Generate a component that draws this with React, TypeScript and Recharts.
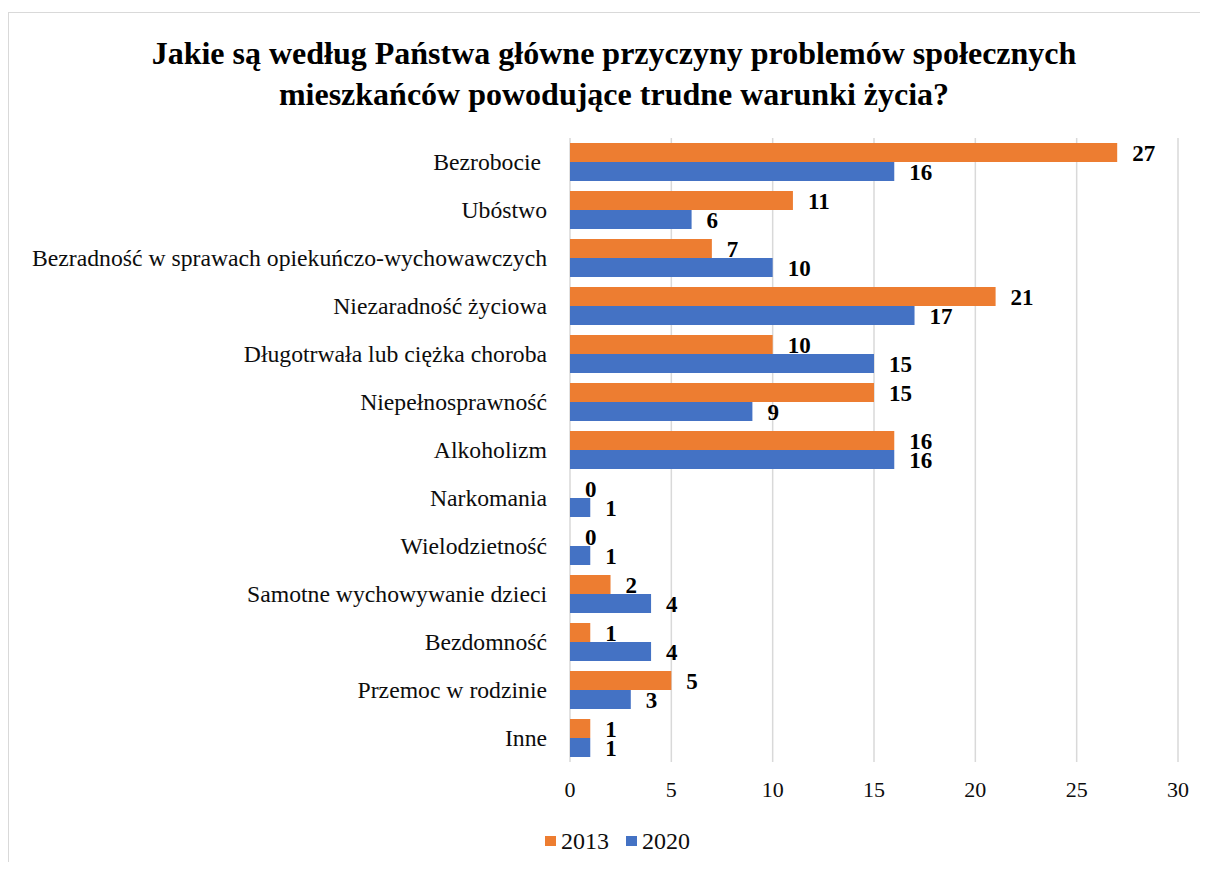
import React from 'react';
import { BarChart, Bar, XAxis, YAxis, CartesianGrid, Legend, LabelList } from 'recharts';

const categories = [
  'Bezrobocie\u00a0',
  'Ubóstwo',
  'Bezradność w sprawach opiekuńczo-wychowawczych',
  'Niezaradność życiowa',
  'Długotrwała lub ciężka choroba',
  'Niepełnosprawność',
  'Alkoholizm',
  'Narkomania',
  'Wielodzietność',
  'Samotne wychowywanie dzieci',
  'Bezdomność',
  'Przemoc w rodzinie',
  'Inne',
];
const values2013 = [27, 11, 7, 21, 10, 15, 16, 0, 0, 2, 1, 5, 1];
const values2020 = [16, 6, 10, 17, 15, 9, 16, 1, 1, 4, 4, 3, 1];
const xTicks = [0, 5, 10, 15, 20, 25, 30];
const seriesNames = ['2013', '2020'];
const titleLines = [
  'Jakie są według Państwa główne przyczyny problemów społecznych',
  'mieszkańców powodujące trudne warunki życia?',
];

const ORANGE = '#ED7D31';
const BLUE = '#4472C4';
const FONT = "'Liberation Serif', 'Times New Roman', serif";

const data = categories.map((name, i) => ({
  name,
  y2013: values2013[i],
  y2020: values2020[i],
}));

const LegendContent = (props: any) => {
  const payload = props && props.payload && props.payload.length
    ? props.payload
    : seriesNames.map((n, i) => ({ value: n, color: i === 0 ? ORANGE : BLUE }));
  return (
    <div style={{ display: 'flex', alignItems: 'center', fontFamily: FONT, fontSize: 24, lineHeight: '24px', color: '#0d0d0d', whiteSpace: 'nowrap' }}>
      {payload.map((p: any, i: number) => (
        <div key={i} style={{ display: 'flex', alignItems: 'center', marginLeft: i === 0 ? 0 : 17 }}>
          <span style={{ display: 'inline-block', width: 11, height: 10, background: p.color, marginRight: 5 }} />
          <span>{p.value}</span>
        </div>
      ))}
    </div>
  );
};

const labelStyle = { fontSize: 23, fontWeight: 'bold' as const, fontFamily: FONT, fill: '#000' };

export default function App() {
  return (
    <div style={{ position: 'relative', width: 1200, height: 854 }}>
      <div
        style={{
          position: 'absolute',
          left: 0,
          top: 4,
          width: 1200,
          height: 858,
          borderTop: '1px solid #d9d9d9',
          borderLeft: '1px solid #d9d9d9',
          boxSizing: 'border-box',
        }}
      />
      <div
        style={{
          position: 'absolute',
          left: 0,
          top: 25,
          width: 1212,
          textAlign: 'center',
          fontFamily: FONT,
          fontWeight: 'bold',
          fontSize: 32,
          lineHeight: '41px',
          color: '#000',
          whiteSpace: 'nowrap',
        }}
      >
        <div>{titleLines[0]}</div>
        <div>{titleLines[1]}</div>
      </div>
      <BarChart
        width={1200}
        height={854}
        data={data}
        layout="vertical"
        margin={{ top: 130, right: 30, bottom: 0, left: 0 }}
        barCategoryGap={5}
        barGap={0}
      >
        <CartesianGrid horizontal={false} vertical={true} stroke="#d9d9d9" strokeWidth={1.5} />
        <XAxis
          type="number"
          domain={[0, 30]}
          ticks={xTicks}
          interval={0}
          axisLine={false}
          tickLine={false}
          tickMargin={13}
          height={76}
          tick={{ fontSize: 22, fontFamily: FONT, fill: '#0d0d0d' }}
        />
        <YAxis
          type="category"
          dataKey="name"
          width={562}
          interval={0}
          axisLine={false}
          tickLine={false}
          tickMargin={17}
          tick={{ fontSize: 23.7, fontFamily: FONT, fill: '#0d0d0d' }}
        />
        <Legend
          verticalAlign="bottom"
          content={<LegendContent />}
          wrapperStyle={{ left: 537, top: 821, bottom: 'auto', width: 'auto', height: 24 }}
        />
        <Bar dataKey="y2013" name={seriesNames[0]} fill={ORANGE} minPointSize={0.01} isAnimationActive={false}>
          <LabelList dataKey="y2013" position="right" offset={15} style={labelStyle} />
        </Bar>
        <Bar dataKey="y2020" name={seriesNames[1]} fill={BLUE} minPointSize={0.01} isAnimationActive={false}>
          <LabelList dataKey="y2020" position="right" offset={15} style={labelStyle} />
        </Bar>
      </BarChart>
    </div>
  );
}
